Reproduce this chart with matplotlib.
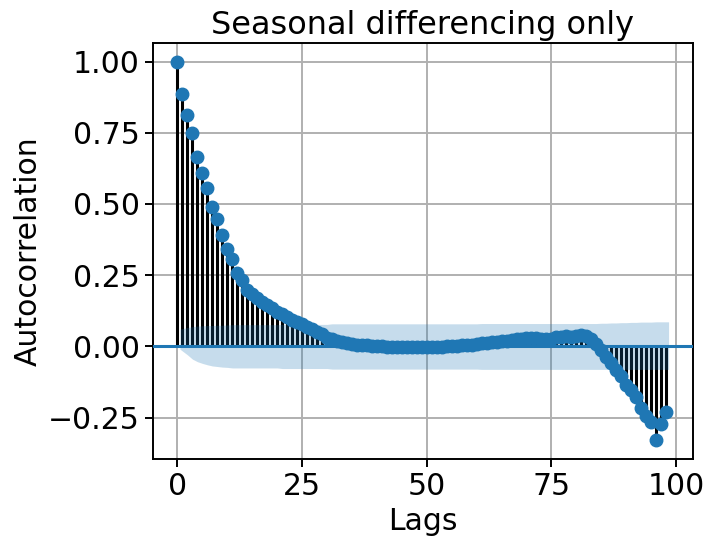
import numpy as np
import matplotlib
matplotlib.use('Agg')
import matplotlib.pyplot as plt

# autocorrelation by lag (lags 0..98)
acf_vals = [
    1.000, 0.885, 0.813, 0.750, 0.664, 0.608, 0.555, 0.490, 0.447, 0.390,
    0.343, 0.306, 0.257, 0.232, 0.197, 0.182, 0.168, 0.156, 0.145, 0.133,
    0.122, 0.112, 0.102, 0.094, 0.085, 0.077, 0.068, 0.060, 0.050, 0.042,
    0.030, 0.024, 0.019, 0.014, 0.010, 0.008, 0.006, 0.004, 0.003, 0.002,
    0.001, 0.000, -0.001, -0.001, -0.002, -0.002, -0.002, -0.002, -0.002, -0.002,
    -0.002, -0.002, -0.001, -0.001, 0.000, 0.001, 0.002, 0.003, 0.005, 0.006,
    0.008, 0.010, 0.012, 0.014, 0.016, 0.018, 0.020, 0.022, 0.024, 0.027,
    0.029, 0.030, 0.029, 0.027, 0.026, 0.027, 0.031, 0.034, 0.035, 0.034,
    0.036, 0.040, 0.037, 0.026, 0.008, -0.014, -0.037, -0.060, -0.082, -0.105,
    -0.135, -0.155, -0.178, -0.218, -0.243, -0.266, -0.330, -0.272, -0.232,
]

# confidence band edges for lags 1..98
band_upper = [
    0.060, 0.066, 0.069, 0.071, 0.072, 0.073, 0.073, 0.074, 0.074, 0.075,
    0.076, 0.076, 0.076, 0.076, 0.076, 0.076, 0.076, 0.076, 0.076, 0.076,
    0.077, 0.077, 0.077, 0.077, 0.077, 0.077, 0.077, 0.077, 0.077, 0.077,
    0.079, 0.079, 0.079, 0.079, 0.079, 0.079, 0.079, 0.079, 0.079, 0.079,
    0.079, 0.079, 0.079, 0.079, 0.079, 0.079, 0.079, 0.079, 0.079, 0.079,
    0.079, 0.079, 0.079, 0.079, 0.079, 0.079, 0.079, 0.079, 0.079, 0.079,
    0.080, 0.080, 0.080, 0.080, 0.080, 0.080, 0.080, 0.080, 0.080, 0.080,
    0.080, 0.080, 0.080, 0.080, 0.080, 0.080, 0.080, 0.080, 0.080, 0.080,
    0.080, 0.080, 0.080, 0.080, 0.081, 0.081, 0.082, 0.082, 0.083, 0.083,
    0.084, 0.084, 0.085, 0.085, 0.085, 0.086, 0.086, 0.086,
]
band_lower = [
    -0.010, -0.030, -0.045, -0.054, -0.060, -0.065, -0.069, -0.071, -0.073, -0.074,
    -0.076, -0.076, -0.076, -0.076, -0.076, -0.076, -0.076, -0.076, -0.076, -0.076,
    -0.078, -0.078, -0.078, -0.078, -0.078, -0.078, -0.078, -0.078, -0.078, -0.078,
    -0.080, -0.080, -0.080, -0.080, -0.080, -0.080, -0.080, -0.080, -0.080, -0.080,
    -0.080, -0.080, -0.080, -0.080, -0.080, -0.080, -0.080, -0.080, -0.080, -0.080,
    -0.080, -0.080, -0.080, -0.080, -0.080, -0.080, -0.080, -0.080, -0.080, -0.080,
    -0.081, -0.081, -0.081, -0.081, -0.081, -0.081, -0.081, -0.081, -0.081, -0.081,
    -0.081, -0.081, -0.081, -0.081, -0.081, -0.081, -0.081, -0.081, -0.081, -0.081,
    -0.081, -0.081, -0.081, -0.081, -0.081, -0.081, -0.081, -0.081, -0.081, -0.081,
    -0.081, -0.081, -0.081, -0.081, -0.081, -0.081, -0.081, -0.081,
]

title = 'Seasonal differencing only'

lags = np.arange(len(acf_vals))
band_x = lags[1:].astype(float)
band_x[0] -= 0.5
band_x[-1] += 0.5

plt.rcParams['font.size'] = 21.5
fig = plt.figure(figsize=(7.08, 5.39), dpi=100)
ax = fig.add_axes([0.216, 0.148, 0.763, 0.773])

ax.vlines(lags, [0], acf_vals, colors='black', linewidth=2.2, zorder=2)
ax.plot(lags, acf_vals, 'o', color='C0', markersize=9, zorder=3)
ax.axhline(0, color='C0', linewidth=2.2, zorder=3)
ax.fill_between(band_x, band_lower, band_upper, color='C0', alpha=0.25,
                linewidth=0, zorder=4)

ax.grid(True, color='#b0b0b0', linewidth=1.4, zorder=0)
ax.set_axisbelow(True)
ax.set_xticks([0, 25, 50, 75, 100])
ax.set_yticks([-0.25, 0.0, 0.25, 0.5, 0.75, 1.0])
ax.set_title(title, fontsize=23)
ax.set_xlabel('Lags')
ax.set_ylabel('Autocorrelation')
for s in ax.spines.values():
    s.set_linewidth(1.4)
ax.tick_params(width=1.4, length=6)

fig.savefig('out.png', dpi=100)
